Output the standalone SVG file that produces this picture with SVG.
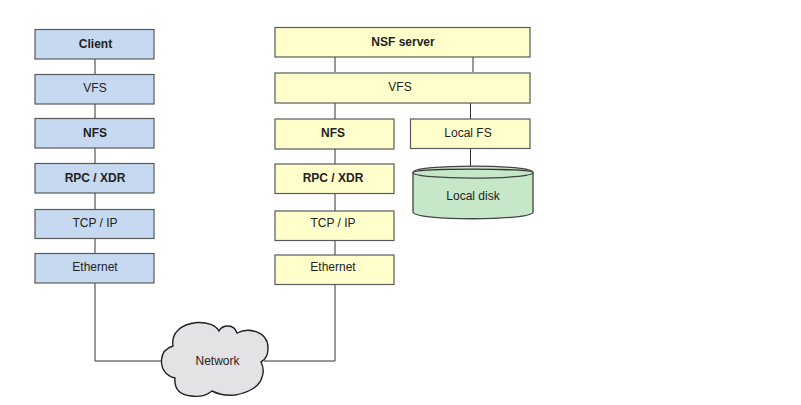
<svg xmlns="http://www.w3.org/2000/svg" width="801" height="405" viewBox="0 0 801 405">
<style>
rect.b{fill:#c6d9f0;stroke:#595959;stroke-width:1.2}
rect.y{fill:#ffffcc;stroke:#595959;stroke-width:1.2}
text{font-family:"Liberation Sans",Arial,sans-serif;font-size:12px;fill:#222;text-anchor:middle}
text.s{font-weight:bold}
#connectors path{fill:none;stroke:#333;stroke-width:1}
</style>
<rect width="801" height="405" fill="#fff"/>
<g id="connectors">
<path d="M95 59V74M95 104V118M95 148V163M95 193V209M95 239V253M95 283V361H165"/>
<path d="M335 57V72M473 57V72M335 103V119M335 149V164M335 194V211M335 241V255M335 285V361H264M470.500 103V119M470.500 149V168"/>
</g>
<g id="client"><rect class="b" x="35" y="29.500" width="119" height="29.500"/><text class="s" x="95.500" y="47.500">Client</text></g>
<g id="client-vfs"><rect class="b" x="35" y="74.500" width="119" height="29.500"/><text x="95" y="92">VFS</text></g>
<g id="client-nfs"><rect class="b" x="35" y="118.500" width="119" height="29.500"/><text class="s" x="95" y="136.500">NFS</text></g>
<g id="client-rpc"><rect class="b" x="35" y="163.500" width="119" height="29.500"/><text class="s" x="95" y="181.500">RPC / XDR</text></g>
<g id="client-tcp"><rect class="b" x="35" y="209.500" width="119" height="29"/><text x="95" y="226.500">TCP / IP</text></g>
<g id="client-eth"><rect class="b" x="35" y="253.500" width="119" height="29.500"/><text x="95" y="271">Ethernet</text></g>
<g id="server"><rect class="y" x="275" y="27.500" width="255" height="29.500"/><text class="s" x="403" y="45.500">NSF server</text></g>
<g id="server-vfs"><rect class="y" x="275" y="73" width="255" height="30"/><text x="400" y="91">VFS</text></g>
<g id="server-nfs"><rect class="y" x="275" y="119" width="119" height="30"/><text class="s" x="333" y="137">NFS</text></g>
<g id="server-rpc"><rect class="y" x="275" y="164" width="119" height="29.500"/><text class="s" x="333" y="182">RPC / XDR</text></g>
<g id="server-tcp"><rect class="y" x="275" y="211" width="119" height="29.500"/><text x="333" y="227">TCP / IP</text></g>
<g id="server-eth"><rect class="y" x="275" y="255" width="119" height="29.500"/><text x="333" y="271">Ethernet</text></g>
<g id="local-fs"><rect class="y" x="410.500" y="119" width="119.500" height="29.500"/><text x="468" y="136.500">Local FS</text></g>
<g id="local-disk">
<path d="M413 172.500C413 164 533 164 533 172.500V212C533 221 413 221 413 212Z" fill="#c6e7c8" stroke="#444" stroke-width="1.300"/>
<path d="M413 172.500C413 180 533 180 533 172.500" fill="#c6e7c8" stroke="#444" stroke-width="1.300"/>
<path d="M413 172.500C413 168 533 168 533 172.500" fill="none" stroke="#333" stroke-width="1.300"/>
<text x="473" y="200">Local disk</text>
</g>
<g id="network">
<path d="M173 346C171 334 180 324 197 322.500C207 322 216 325 219 331C222 325 234 323 237 333C248 327 268 331 268 348C268 355 265 360 261 362C264 368 264 372 262 377C260 387 247 393 235 395C226 396 218 394 212 391C206 396 198 397 191 396C180 395 174 390 175 378C166 376 161 369 161.500 360C162 353 166 348 173 346Z" fill="#e3e3e6" stroke="#222" stroke-width="1.400"/>
<text x="217.500" y="365">Network</text>
</g>
</svg>
